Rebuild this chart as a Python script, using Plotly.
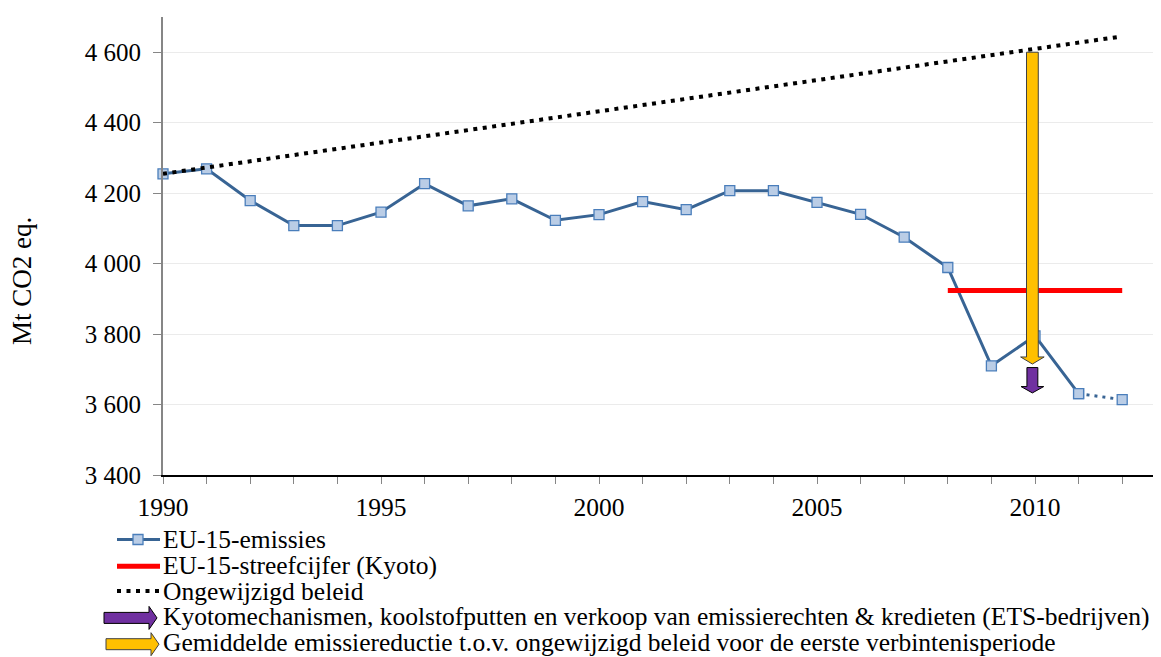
"""EU-15 greenhouse gas emissions vs. Kyoto target and business-as-usual path."""
import plotly.graph_objects as go

# ---- data (Mt CO2 eq.) -------------------------------------------------------
years = list(range(1990, 2013))
emissions = [4255, 4269, 4179, 4108, 4108, 4146, 4227, 4164, 4184, 4123, 4139,
             4176, 4153, 4207, 4207, 4174, 4140, 4075, 3989, 3710, 3795, 3631, 3614]
kyoto_years = [2008, 2012]
kyoto_target = [3924, 3924]
bau_years = [1990, 2012]
bau_values = [4255, 4645]
arrow_year = 2010
reduction_arrow = [4600, 3715]      # yellow: average reduction vs. unchanged policy
mechanism_arrow = [3705, 3633]      # purple: Kyoto mechanisms, sinks, credits

legend_labels = [
    "EU-15-emissies",
    "EU-15-streefcijfer (Kyoto)",
    "Ongewijzigd beleid",
    "Kyotomechanismen, koolstofputten en verkoop van emissierechten & kredieten (ETS-bedrijven)",
    "Gemiddelde emissiereductie t.o.v. ongewijzigd beleid voor de eerste verbintenisperiode",
]

# ---- style -------------------------------------------------------------------
FONT = "Liberation Serif, Times New Roman, serif"
BLUE, MARKER_FILL, MARKER_EDGE = "#386494", "#BACDE6", "#4A7EBB"
RED, YELLOW, PURPLE = "#FF0000", "#FFC000", "#7030A0"
OFF = 8                                   # page body margin
W, H = 1161 - OFF, 657 - OFF
L, T, PW, PH = 163 - OFF, 17 - OFF, 998, 458   # plot area (figure pixels)
X_RANGE = [1990, 1990 + PW / 43.6]
Y_RANGE = [3400, 4700]

fig = go.Figure()

# measured part solid, last (estimated) year dotted
split = years.index(2011) + 1
fig.add_trace(go.Scatter(
    x=years[:split], y=emissions[:split], mode="lines+markers",
    line=dict(color=BLUE, width=3),
    marker=dict(symbol="square", size=10, color=MARKER_FILL,
                line=dict(color=MARKER_EDGE, width=1.3)),
    showlegend=False, cliponaxis=False,
))
fig.add_trace(go.Scatter(
    x=years[split - 1:], y=emissions[split - 1:], mode="lines+markers",
    line=dict(color=BLUE, width=3, dash="3px,5px"),
    marker=dict(symbol="square", size=10, color=MARKER_FILL,
                line=dict(color=MARKER_EDGE, width=1.3)),
    showlegend=False,
))
fig.add_trace(go.Scatter(
    x=kyoto_years, y=kyoto_target, mode="lines",
    line=dict(color=RED, width=5), showlegend=False,
))
fig.add_trace(go.Scatter(
    x=bau_years, y=bau_values, mode="lines",
    line=dict(color="black", width=4, dash="4px,5.5px"), showlegend=False,
))


def down_arrow(x, y0, y1, shaft_w, head_w, head_len):
    """Vertical block arrow path in data coordinates."""
    yb = y1 + head_len
    return (f"M{x - shaft_w},{y0} L{x + shaft_w},{y0} L{x + shaft_w},{yb} "
            f"L{x + head_w},{yb} L{x},{y1} L{x - head_w},{yb} L{x - shaft_w},{yb} Z")


# block arrows at 2010 (widths in years, head length in Mt)
fig.add_shape(type="path", xref="x", yref="y",
              path=down_arrow(arrow_year - 0.06, reduction_arrow[0], reduction_arrow[1],
                              0.135, 0.27, 20),
              fillcolor=YELLOW, line=dict(color="#404040", width=1))
fig.add_shape(type="path", xref="x", yref="y",
              path=down_arrow(arrow_year - 0.06, mechanism_arrow[0], mechanism_arrow[1],
                              0.125, 0.26, 18),
              fillcolor=PURPLE, line=dict(color="black", width=1))


# ---- hand-made legend below the plot (page pixel -> paper helpers) -----------
def px(x):
    return (x - 163) / PW


def py(y):
    return (475 - y) / PH


row_y = [539.5 + 25.8 * i for i in range(len(legend_labels))]
for lab, y in zip(legend_labels, row_y):
    fig.add_annotation(text=lab, x=px(161), y=py(y), xref="paper", yref="paper",
                       xanchor="left", yanchor="middle", showarrow=False,
                       font=dict(family=FONT, size=25.5, color="black"))

# line samples
fig.add_shape(type="line", xref="paper", yref="paper",
              x0=px(117), x1=px(160), y0=py(row_y[0]), y1=py(row_y[0]),
              line=dict(color=BLUE, width=3))
fig.add_shape(type="rect", xref="paper", yref="paper",
              x0=px(133), x1=px(143), y0=py(row_y[0] - 5), y1=py(row_y[0] + 5),
              fillcolor=MARKER_FILL, line=dict(color=MARKER_EDGE, width=1.3))
fig.add_shape(type="line", xref="paper", yref="paper",
              x0=px(117), x1=px(160), y0=py(row_y[1] + 1), y1=py(row_y[1] + 1),
              line=dict(color=RED, width=5))
fig.add_shape(type="line", xref="paper", yref="paper",
              x0=px(117), x1=px(160), y0=py(row_y[2]), y1=py(row_y[2]),
              line=dict(color="black", width=4, dash="4px,5.5px"))


def right_arrow(x0, x1, yc, shaft_h, head_h, head_len):
    xb = x1 - head_len
    pts = [(x0, yc - shaft_h / 2), (xb, yc - shaft_h / 2), (xb, yc - head_h / 2),
           (x1, yc), (xb, yc + head_h / 2), (xb, yc + shaft_h / 2), (x0, yc + shaft_h / 2)]
    return "M" + " L".join(f"{px(a)},{py(b)}" for a, b in pts) + " Z"


fig.add_shape(type="path", xref="paper", yref="paper",
              path=right_arrow(104, 157, row_y[3] + 1, 11, 23, 8),
              fillcolor=PURPLE, line=dict(color="black", width=1))
fig.add_shape(type="path", xref="paper", yref="paper",
              path=right_arrow(106, 159, row_y[4] + 1.5, 11, 23, 8),
              fillcolor=YELLOW, line=dict(color="#404040", width=1))

# y-axis title
fig.add_annotation(text="Mt CO2 eq.", x=px(22), y=py(281), xref="paper", yref="paper",
                   textangle=-90, xanchor="center", yanchor="middle", showarrow=False,
                   font=dict(family=FONT, size=27, color="black"))

fig.update_layout(
    width=W, height=H,
    margin=dict(l=L, r=W - L - PW, t=T, b=H - T - PH),
    paper_bgcolor="white", plot_bgcolor="white",
    separators=", ",
    font=dict(family=FONT, size=25, color="black"),
    showlegend=False,
)
fig.update_xaxes(
    range=X_RANGE, dtick=5, tick0=1990, tickformat="d",
    tickfont=dict(size=25.5),
    showgrid=False, zeroline=False,
    showline=True, linecolor="black", linewidth=1.5,
    ticks="outside", ticklen=7, tickcolor="#868686", tickwidth=1,
    minor=dict(dtick=1, ticks="outside", ticklen=7, tickcolor="#868686", showgrid=False),
    ticklabelstandoff=2,
)
fig.update_yaxes(
    range=Y_RANGE, dtick=200, tickformat=",d",
    showgrid=True, gridcolor="#EBEBEB", gridwidth=1, zeroline=False,
    showline=True, linecolor="#868686", linewidth=2,
    ticks="outside", ticklen=8, tickcolor="#868686",
    ticklabelstandoff=7,
)

fig.write_html("out.html")
